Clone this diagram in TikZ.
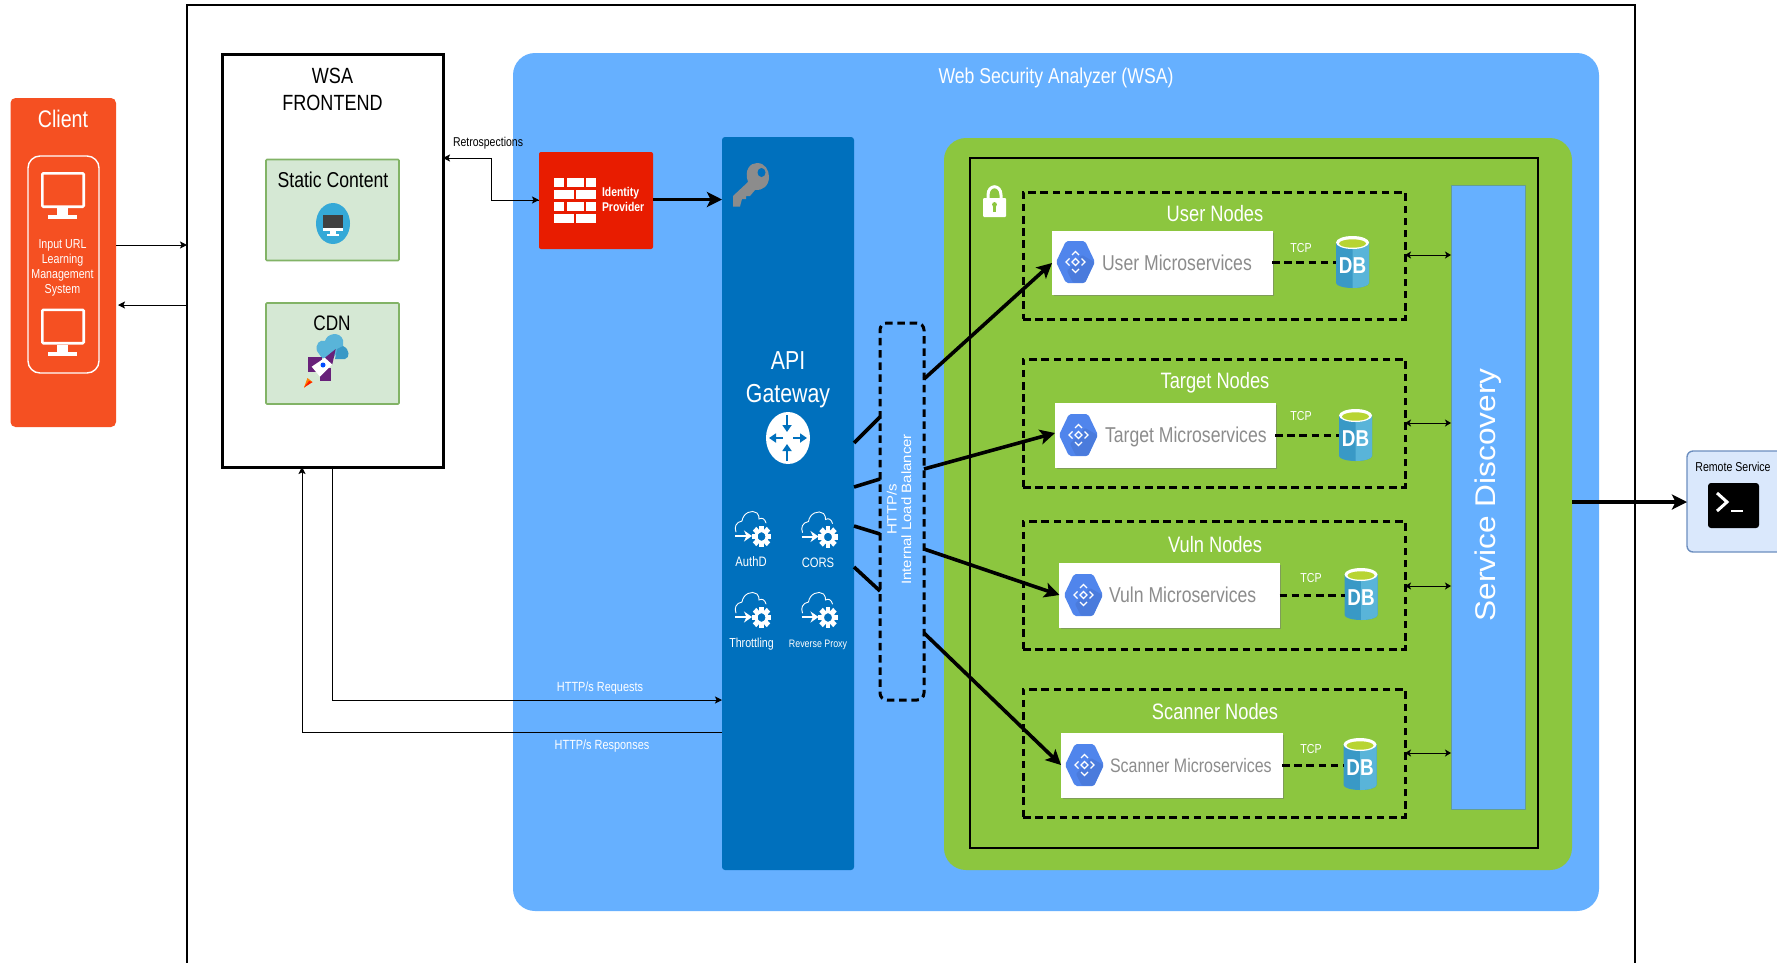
\documentclass[tikz,border=0pt]{standalone}
\usepackage{fontspec}
\setmainfont[FakeStretch=0.82]{Liberation Sans}
\newfontfamily\rotf[FakeStretch=1.11]{Liberation Sans}
\usetikzlibrary{arrows.meta,calc}
\definecolor{clientc}{HTML}{F55022}
\definecolor{wsac}{HTML}{66B0FF}
\definecolor{apic}{HTML}{0070BD}
\definecolor{greenc}{HTML}{8CC63F}
\definecolor{idpc}{HTML}{E81C00}
\definecolor{panelf}{HTML}{D5E8D4}
\definecolor{panels}{HTML}{82B366}
\definecolor{remf}{HTML}{DAE8FC}
\definecolor{rems}{HTML}{6C8EBF}
\definecolor{hexc}{HTML}{5085EC}
\definecolor{hexd}{HTML}{4A7BDC}
\definecolor{dbl}{HTML}{59B4D9}
\definecolor{dbd}{HTML}{3999C6}
\definecolor{dbg}{HTML}{B8D432}
\definecolor{msgray}{HTML}{8C8C8C}
\definecolor{rocketc}{HTML}{68217A}
\newcommand\fz[2]{\fontsize{#1}{#2}\selectfont}
\newcommand\bx[6]{%
  \pgfmathsetmacro\bw{#4-#2}\pgfmathsetmacro\bh{#5-#3}%
  \pgfmathsetmacro\bcx{(#2+#4)/2}\pgfmathsetmacro\bcy{(#3+#5)/2}%
  \node[box,#6,minimum width=\bw pt,minimum height=\bh pt] (#1) at (\bcx,\bcy) {};}
% monitor: top-left x,y
\newcommand\monitor[2]{\begin{scope}[shift={(#1,#2)}]
  \draw[white,line width=2.6pt,rounded corners=1pt] (1.3,1.3) rectangle (42.7,34.7);
  \fill[white] (16,36) rectangle (27,43); \fill[white] (7,43) rectangle (36,47);
\end{scope}}
% cloud with arrow and gear: top-left x,y
\newcommand\cloudgear[2]{\begin{scope}[shift={(#1,#2)}]
  \draw[white,line width=0.9pt,line cap=round] (1,21) .. controls (-1,16) and (1,11) .. (7,10)
     .. controls (8,2) and (17,-2) .. (22,2) .. controls (24,4) and (24,6) .. (24,8)
     .. controls (27,6) and (30,8) .. (31,12);
  \draw[white,line width=2pt,-{Stealth[length=8pt,width=11pt,inset=2.5pt]}] (0,25) -- (17,25);
  \begin{scope}[shift={(26.5,25.5)},yscale=1.12]
    \foreach \a in {0,45,...,315} \fill[white,rotate=\a] (-2.4,-9.8) rectangle (2.4,-4);
    \draw[white,line width=3pt] (0,0) circle (5.4);
  \end{scope}
\end{scope}}
% hexagon icon: x1 x2 ycentre
\newcommand\hexicon[3]{\begin{scope}[shift={(#1,#2)}]
  \fill[hexc,rounded corners=2pt] (0,#3) -- (10,0) -- (29,0) -- (39,#3) -- (29,2*#3) -- (10,2*#3) -- cycle;
  \fill[hexd,rounded corners=1pt] (26,14) -- (38.5,#3) -- (29,2*#3-.3) -- (17,2*#3-.3) -- (11,30) -- cycle;
  \begin{scope}[shift={(19.5,#3)}]
    \draw[white,line width=1.3pt] (0,-3.5) -- (3.5,0) -- (0,3.5) -- (-3.5,0) -- cycle;
    \draw[white,line width=1.3pt] (-3.5,-7) -- (0,-10.5) -- (3.5,-7);
    \draw[white,line width=1.3pt] (-3.5,7) -- (0,10.5) -- (3.5,7);
    \draw[white,line width=1.3pt] (-6,-3.5) -- (-9.5,0) -- (-6,3.5);
    \draw[white,line width=1.3pt] (6,-3.5) -- (9.5,0) -- (6,3.5);
  \end{scope}
\end{scope}}
% DB cylinder: name cx top
\newcommand\dbicon[3]{\begin{scope}[shift={(#2,#3)}]
  \fill[dbd] (-16.5,6) -- (16.5,6) -- (16.5,47) .. controls (16.5,50) and (8,52) .. (0,52) .. controls (-8,52) and (-16.5,50) .. (-16.5,47) -- cycle;
  \fill[dbl] (0,8) -- (16.5,6) -- (16.5,47) .. controls (16.5,50) and (8,52) .. (0,52) -- cycle;
  \fill[white] (0,6.5) ellipse [x radius=16.5, y radius=6.5];
  \fill[dbg] (0,7.5) ellipse [x radius=13.5, y radius=4.2];
\end{scope}
\node[box,minimum width=33pt,minimum height=52pt,text=white] (#1) at (#2,#3+26) {\raisebox{-11pt}[0pt][0pt]{\fz{23}{23}\bfseries DB}};}
\tikzset{
  box/.style={rectangle,inner sep=0pt,outer sep=0pt},
  lab/.style={inner sep=0pt,outer sep=0pt,align=center},
  thinarrow/.style={draw=black,line width=1pt,-{Stealth[length=7pt,width=7pt,inset=1.5pt]}},
  bothways/.style={draw=black,line width=1pt,{Stealth[length=6pt,width=7pt,inset=1.5pt]}-{Stealth[length=6pt,width=7pt,inset=1.5pt]}},
  thickarrow/.style={draw=black,line width=3.6pt,-{Stealth[length=15pt,width=15pt,inset=3.5pt]}},
  thickline/.style={draw=black,line width=3.6pt},
  dashbox/.style={draw=black,line width=3pt,dash pattern=on 7.5pt off 4.7pt},
  panel/.style={fill=panelf,draw=panels,line width=1.6pt,rounded corners=1pt},
  msbox/.style={fill=white,draw=white},
  whitetxt/.style={lab,text=white},
}
\begin{document}
\begin{tikzpicture}[x=1pt,y=-1pt]
\path[use as bounding box,clip] (0,0) rectangle (1777,962);
\fill[white] (0,0) rectangle (1777,962);
% outer frame
\bx{outer}{187}{5}{1635}{1000}{draw=black,line width=2.8pt}
% client
\bx{client}{10.5}{98}{116}{427}{fill=clientc,rounded corners=5pt}
\node[whitetxt] (clienttitle) at (63,118.5) {\fz{24}{28}Client};
\bx{clientin}{28}{156}{99}{373}{draw=white,line width=1.4pt,rounded corners=12pt}
\monitor{41}{172}
\monitor{41}{308.5}
\node[whitetxt,font=\fz{13}{15}] (clienttxt) at (62.5,267.5) {Input URL\\Learning\\Management\\System};
% frontend
\bx{front}{222}{54}{443}{467}{draw=black,line width=3pt}
\node[lab,font=\fz{22}{26.5}] (fronttitle) at (332.5,89.5) {WSA\\FRONTEND};
\bx{static}{266}{159.5}{399}{260.5}{panel}
\node[lab] (statictxt) at (333,180) {\fz{21.5}{24}Static Content};
\fill[cyan!70!teal!90!white] (333,223.5) ellipse [x radius=17, y radius=20.5];
\fill[black!75] (323,215) rectangle (343,228);
\fill[white] (323,228) rectangle (343,231); \fill[white] (330,231) rectangle (336,234); \fill[white] (327,234) rectangle (339,235.5);
\bx{cdn}{266}{303}{399}{404}{panel}
\node[lab] (cdntxt) at (332,323) {\fz{21}{24}CDN};
% cdn rocket icon
\fill[dbl] (317,351) .. controls (315,344) and (320,339) .. (325,341) .. controls (327,333) and (340,331) .. (343,340) .. controls (343,342) and (343,344) .. (343,346) -- (333,358) -- (322,358) -- cycle;
\fill[dbd] (335,359) -- (345,359) .. controls (350,358) and (350,349) .. (343,346) -- (337,349) -- cycle;
\fill[rocketc] (308,357) -- (322,357) -- (322,372) -- (308,372) -- cycle;
\fill[rocketc] (320,368) -- (331,368) -- (331,381) -- (320,381) -- cycle;
\fill[white] (311.7,366.7) -- (325,357.7) -- (332.3,364.3) -- (320,376.7) -- cycle;
\fill[rocketc] (325,357.7) -- (335.7,349) -- (332.3,364.3) -- cycle;
\fill[blue!70!cyan] (323,365) circle (2.5);
\fill[orange] (304,387.5) -- (307.5,378) -- (312.5,382) -- cycle;
\fill[red!80!orange] (304,387.5) -- (309,381) -- (312.5,382) -- cycle;
% WSA
\bx{wsa}{513}{53}{1599}{911}{fill=wsac,rounded corners=22pt}
\node[whitetxt] (wsatitle) at (1056,78) {\fz{21.5}{26}Web Security Analyzer (WSA)};
% identity provider
\bx{idp}{539}{152}{653}{249}{fill=idpc,rounded corners=2pt}
\foreach \yy/\kind in {177.5/0,189.5/1,201.5/0,213.5/1}{
  \ifnum\kind=0
    \fill[white] (554.3,\yy) rectangle (564.3,\yy+9.3);
    \fill[white] (566.7,\yy) rectangle (584,\yy+9.3);
    \fill[white] (586,\yy) rectangle (596,\yy+9.3);
  \else
    \fill[white] (554.3,\yy) rectangle (574.3,\yy+9.3);
    \fill[white] (576.3,\yy) rectangle (596,\yy+9.3);
  \fi}
\node[whitetxt,anchor=west] (idptxt) at (602,201) {\fz{12.7}{15}\bfseries\begin{tabular}{@{}l@{}}Identity\\Provider\end{tabular}};
% API gateway
\bx{api}{722}{137}{854}{870}{fill=apic,rounded corners=3pt}
\fill[black!45] (733,206.5) -- (733,196) -- (748,182) .. controls (744,170) and (750,163) .. (757,163) .. controls (765,163) and (769,170) .. (769,177) .. controls (769,186) and (762,191) .. (755,190) -- (750,196) -- (746,196) -- (746,199) -- (742,199) -- (740,206.5) -- cycle;
\fill[apic] (761.5,172.5) ellipse [x radius=4, y radius=4.5];
\node[whitetxt,font=\fz{26}{33}] (apitxt) at (788,380) {API\\Gateway};
\fill[white] (788,438) ellipse [x radius=22, y radius=26];
\begin{scope}[apic,line width=2.6pt]
  \draw[-{Triangle[length=7pt,width=9pt]}] (787,415) -- (787,432);
  \draw[-{Triangle[length=7pt,width=9pt]}] (787,461) -- (787,444);
  \draw[-{Triangle[length=7pt,width=9pt]}] (783,438) -- (769,438);
  \draw[-{Triangle[length=7pt,width=9pt]}] (793,438) -- (807,438);
\end{scope}
\cloudgear{735}{511}
\cloudgear{801.5}{511.5}
\cloudgear{735}{592}
\cloudgear{801.5}{592}
\node[whitetxt] (authd) at (751,562) {\fz{13.7}{16}AuthD};
\node[whitetxt] (cors) at (818,562.5) {\fz{13.7}{16}CORS};
\node[whitetxt] (throt) at (751.5,644) {\fz{13}{16}Throttling};
\node[whitetxt] (revp) at (818,644.5) {\fz{10.8}{13}Reverse Proxy};
% load balancer
\bx{lb}{880}{323}{924}{700}{dashbox,rounded corners=7pt}
\node[whitetxt,rotate=90,font=\rotf\fz{13.5}{14.5}] (lbtxt) at (899,509.5) {HTTP/s\\Internal Load Balancer};
% green area
\bx{green}{944}{138}{1572}{870}{fill=greenc,rounded corners=22pt}
\bx{inner}{970}{158}{1538}{848}{draw=black,line width=2pt}
% lock
\fill[white,rounded corners=1pt] (983,198) rectangle (1006,217);
\draw[white,line width=3pt] (988,199) -- (988,195) .. controls (988,184) and (1001,184) .. (1001,195) -- (1001,199);
\fill[greenc] (994.5,204.5) circle (2.4); \fill[greenc] (993.2,205) rectangle (995.8,212);
% groups
\bx{guser}{1023}{192}{1405}{319}{dashbox}
\bx{gtarget}{1023}{359}{1405}{487}{dashbox}
\bx{gvuln}{1023}{521}{1405}{649}{dashbox}
\bx{gscan}{1023}{689}{1405}{817}{dashbox}
\node[whitetxt] (tuser) at (1215,214) {\fz{22.3}{26}User Nodes};
\node[whitetxt] (ttarget) at (1215,383) {\fz{22.3}{26}Target Nodes};
\node[whitetxt] (tvuln) at (1215,544.5) {\fz{22.3}{26}Vuln Nodes};
\node[whitetxt] (tscan) at (1215,712) {\fz{22.3}{26}Scanner Nodes};
% microservice boxes
\fill[black!55,opacity=.5] (1053.5,232.5) rectangle (1273.5,296);
\fill[black!55,opacity=.5] (1056.5,404.5) rectangle (1276.5,469);
\fill[black!55,opacity=.5] (1061,564.5) rectangle (1281,629);
\fill[black!55,opacity=.5] (1062.5,734.5) rectangle (1283.5,799);
\bx{muser}{1052}{231}{1272}{294}{msbox}
\bx{mtarget}{1055}{403}{1275}{467}{msbox}
\bx{mvuln}{1059.5}{563}{1279.5}{627}{msbox}
\bx{mscan}{1061}{733}{1282}{797}{msbox}
\hexicon{1056}{241}{21}
\hexicon{1059}{414}{21}
\hexicon{1064}{574}{21}
\hexicon{1065}{744}{21}
\node[lab,text=msgray,anchor=west] (muser-t) at (1102,263) {\fz{21.5}{24}User Microservices};
\node[lab,text=msgray,anchor=west] (mtarget-t) at (1105,437) {\fz{21.5}{24}Target Microservices};
\node[lab,text=msgray,anchor=west] (mvuln-t) at (1109,595) {\fz{21.5}{24}Vuln Microservices};
\node[lab,text=msgray,anchor=west] (mscan-t) at (1110,766) {\fz{19.5}{24}Scanner Microservices};
% DBs
\dbicon{duser}{1352.5}{236}
\dbicon{dtarget}{1355.5}{409}
\dbicon{dvuln}{1361}{568}
\dbicon{dscan}{1360}{738}
\node[whitetxt] (tcp1) at (1301,248) {\fz{13}{15}TCP};
\node[whitetxt] (tcp2) at (1301,416) {\fz{13}{15}TCP};
\node[whitetxt] (tcp3) at (1311,578) {\fz{13}{15}TCP};
\node[whitetxt] (tcp4) at (1311,749) {\fz{13}{15}TCP};
\draw[dashbox] (muser.east |- 0,262) -- (duser.west |- 0,262);
\draw[dashbox] (mtarget.east |- 0,435) -- (dtarget.west |- 0,435);
\draw[dashbox] (mvuln.east |- 0,595) -- (dvuln.west |- 0,595);
\draw[dashbox] (mscan.east |- 0,765) -- (dscan.west |- 0,765);
% service discovery
\bx{sd}{1451}{185}{1525}{809}{fill=wsac,draw=greenc!45!wsac!85!black,line width=1pt}
\node[whitetxt,rotate=90] (sdtxt) at (1488,495) {\rotf\fz{28.5}{32}Service Discovery};
\draw[bothways] (guser.east |- 0,255) -- (sd.west |- 0,255);
\draw[bothways] (gtarget.east |- 0,423) -- (sd.west |- 0,423);
\draw[bothways] (gvuln.east |- 0,586) -- (sd.west |- 0,586);
\draw[bothways] (gscan.east |- 0,753) -- (sd.west |- 0,753);
% remote service
\bx{remote}{1687}{451}{1810}{552}{fill=remf,draw=rems,line width=1.4pt,rounded corners=6pt}
\node[lab] (remotetxt) at (1733,467) {\fz{12.9}{15}Remote Service};
\bx{term}{1708}{483}{1759}{528}{fill=black,rounded corners=3pt}
\draw[white,line width=3pt] (1717,493) -- (1727,502) -- (1717,511);
\draw[white,line width=2pt] (1731,511) -- (1743,511);
% connectors
\draw[thinarrow] (client.east |- 0,245) -- (outer.west |- 0,245);
\draw[thinarrow] (outer.west |- 0,305) -- (118,305);
\draw[thinarrow] (idp.west |- 0,200) -| (491,158) -- (front.east |- 0,158);
\draw[thinarrow] (491,200) -- (idp.west |- 0,200);
\draw[thickarrow] (idp.east |- 0,199.5) -- (api.west |- 0,199.5);
\draw[thinarrow] (front.south) |- (api.west |- 0,700);
\draw[thinarrow] (api.west |- 0,732) -| (front.south -| 302,0);
\node[whitetxt] (req) at (600,688.5) {\fz{13.3}{15}HTTP/s Requests};
\node[whitetxt] (resp) at (602,746) {\fz{13.3}{15}HTTP/s Responses};
\node[lab] (retro) at (488,143.5) {\fz{12.8}{15}Retrospections};
\draw[thickline] (api.east |- 0,443) -- (lb.west |- 0,417);
\draw[thickline] (api.east |- 0,487) -- (lb.west |- 0,479);
\draw[thickline] (api.east |- 0,526) -- (lb.west |- 0,534);
\draw[thickline] (api.east |- 0,567) -- (lb.west |- 0,591);
\draw[thickarrow] (lb.east |- 0,379) -- (muser.west |- 0,263);
\draw[thickarrow] (lb.east |- 0,469) -- (mtarget.west |- 0,433);
\draw[thickarrow] (lb.east |- 0,549) -- (mvuln.west |- 0,595);
\draw[thickarrow] (lb.east |- 0,633) -- (mscan.west |- 0,765);
\draw[thickarrow] (green.east |- 0,502) -- (remote.west |- 0,502);
\end{tikzpicture}
\end{document}
